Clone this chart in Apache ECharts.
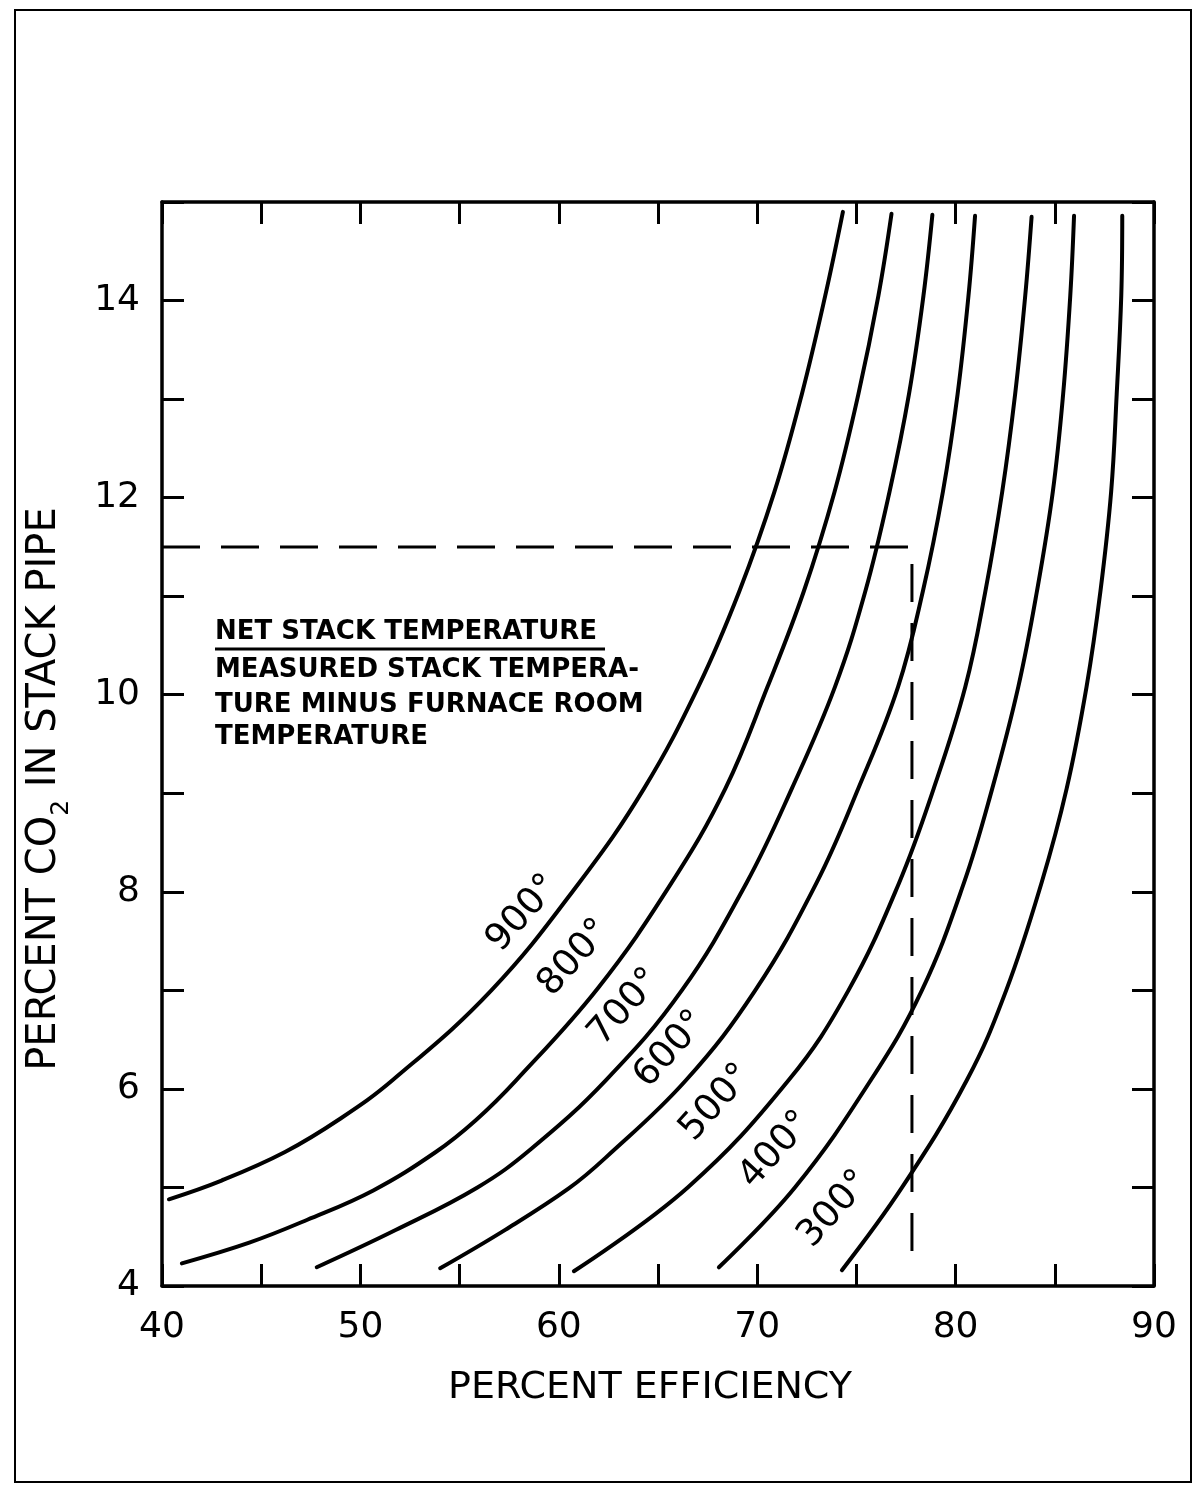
<!DOCTYPE html>
<html><head><meta charset="utf-8">
<script src="https://cdn.jsdelivr.net/npm/echarts@6/dist/echarts.min.js"></script>
<style>html,body{margin:0;padding:0;background:#fff}#c{width:1195px;height:1487px}</style>
</head><body><div id="c"></div>
<script>
// ---- data ----
const xTickValues = [40, 50, 60, 70, 80, 90];
const yTickValues = [4, 6, 8, 10, 12, 14];
const tempLabels = ['900°', '800°', '700°', '600°', '500°', '400°', '300°'];
// [percent efficiency, percent CO2]
const curve900 = [[40.35,4.88],[43.0,5.07],[46.2,5.36],[49.0,5.7],[51.63,6.09],[56.6,7.0],[61.02,8.09],[64.3,9.05],[67.03,10.08],[69.1,11.05],[70.87,12.06],[72.25,13.05],[73.43,14.05],[74.32,14.9]];
const curve800 = [[41.0,4.23],[44.4,4.44],[47.3,4.67],[50.65,4.97],[53.8,5.36],[55.8,5.68],[57.86,6.09],[62.0,7.03],[65.68,8.09],[68.4,9.05],[70.52,10.08],[72.35,11.05],[73.9,12.06],[75.1,13.05],[76.11,14.05],[76.77,14.88]];
const curve700 = [[47.8,4.19],[51.8,4.57],[55.9,5.0],[58.6,5.39],[62.38,6.09],[66.2,7.0],[69.46,8.09],[71.75,9.05],[73.92,10.08],[75.45,11.05],[76.67,12.06],[77.65,13.05],[78.38,14.05],[78.83,14.87]];
const curve600 = [[54.02,4.18],[57.3,4.57],[60.5,4.99],[62.35,5.3],[66.42,6.09],[69.9,7.0],[72.99,8.09],[75.1,9.05],[77.1,10.08],[78.35,11.05],[79.36,12.06],[80.1,13.05],[80.65,14.05],[80.98,14.86]];
const curve500 = [[60.76,4.15],[66.5,5.0],[71.59,6.09],[74.6,7.0],[77.15,8.09],[78.9,9.05],[80.49,10.08],[81.5,11.05],[82.35,12.06],[83.0,13.05],[83.51,14.05],[83.83,14.85]];
const curve400 = [[68.07,4.19],[71.9,5.0],[75.73,6.09],[78.3,7.0],[80.42,8.09],[81.85,9.05],[83.16,10.08],[84.1,11.05],[84.9,12.06],[85.42,13.05],[85.78,14.05],[85.97,14.86]];
const curve300 = [[74.27,4.16],[77.3,5.0],[80.57,6.09],[82.55,7.0],[84.33,8.09],[85.6,9.05],[86.6,10.08],[87.3,11.05],[87.84,12.06],[88.12,13.05],[88.35,14.05],[88.4,14.86]];
const exampleCO2 = 11.5;
const exampleEfficiency = 77.8;
const exampleBottom = 4.2;

// ---- layout / style ----
const curves = [curve900, curve800, curve700, curve600, curve500, curve400, curve300];
const labelAnchors = [[58.2,7.78],[60.8,7.33],[63.35,6.83],[65.65,6.4],[67.95,5.86],[70.95,5.38],[73.9,4.78]];
const FONT = '"DejaVu Sans", sans-serif';
const INK = '#000';

const chart = echarts.init(document.getElementById('c'), null, {renderer: 'canvas'});

const series = curves.map((c, i) => ({
  type: 'line', name: tempLabels[i], data: c, smooth: 0.4,
  showSymbol: false, symbol: 'none', silent: true,
  lineStyle: {color: INK, width: 4, cap: 'round'}
}));
series.push({
  type: 'line', data: [[40, exampleCO2], [exampleEfficiency, exampleCO2], [exampleEfficiency, exampleBottom]],
  showSymbol: false, symbol: 'none', silent: true,
  lineStyle: {color: INK, width: 3, type: [38, 21]}
});
series.push({
  type: 'scatter', symbolSize: 0, silent: true, itemStyle: {color: INK, opacity: 1},
  data: labelAnchors.map((p, i) => [p[0], p[1], tempLabels[i]]),
  label: {show: true, position: 'inside', rotate: 48, formatter: p => p.value[2],
          color: INK, textBorderWidth: 0, opacity: 1, fontFamily: FONT, fontSize: 37}
});

const axisCommon = {
  axisLine: {show: true, onZero: false, lineStyle: {color: INK, width: 3.5}},
  axisTick: {show: true, inside: true, length: 22, lineStyle: {color: INK, width: 3}},
  splitLine: {show: false}
};

chart.setOption({
  animation: false,
  backgroundColor: '#fff',
  grid: {left: 162, right: 41, top: 202, bottom: 201, containLabel: false},
  xAxis: [
    Object.assign({type: 'value', position: 'bottom', min: 40, max: 90, interval: 5,
      axisLabel: {show: true, margin: 24, color: INK, fontFamily: FONT, fontSize: 36,
        formatter: v => xTickValues.includes(v) ? String(v) : ''}}, axisCommon),
    Object.assign({type: 'value', position: 'top', min: 40, max: 90, interval: 5,
      axisLabel: {show: false}}, axisCommon)
  ],
  yAxis: [
    Object.assign({type: 'value', position: 'left', min: 4, max: 15, interval: 1,
      axisLabel: {show: true, margin: 22, color: INK, fontFamily: FONT, fontSize: 36,
        formatter: v => yTickValues.includes(v) ? String(v) : ''}}, axisCommon),
    Object.assign({type: 'value', position: 'right', min: 4, max: 15, interval: 1,
      axisLabel: {show: false}}, axisCommon)
  ],
  series: series,
  graphic: [
    {type: 'rect', shape: {x: 15, y: 10, width: 1176, height: 1472}, silent: true,
     style: {fill: 'none', stroke: INK, lineWidth: 2}},
    {type: 'text', x: 650, y: 1388, silent: true,
     style: {text: 'PERCENT EFFICIENCY', fill: INK, font: '38px ' + FONT, align: 'center', verticalAlign: 'middle'}},
    {type: 'text', x: 45, y: 789, rotation: Math.PI / 2, silent: true,
     style: {text: 'PERCENT CO{sub|2} IN STACK PIPE', fill: INK, fontFamily: FONT, fontSize: 40,
       align: 'center', verticalAlign: 'middle', lineHeight: 58,
       rich: {sub: {fontSize: 25, fontFamily: FONT, fill: INK, verticalAlign: 'bottom', lineHeight: 25}}}},
    {type: 'text', x: 215, y: 632, silent: true,
     style: {text: 'NET STACK TEMPERATURE', fill: INK, font: 'bold 26px ' + FONT, align: 'left', verticalAlign: 'middle'}},
    {type: 'line', silent: true, shape: {x1: 215, y1: 649, x2: 605, y2: 649}, style: {stroke: INK, lineWidth: 3}},
    {type: 'text', x: 215, y: 670, silent: true,
     style: {text: 'MEASURED STACK TEMPERA-', fill: INK, font: 'bold 26px ' + FONT, align: 'left', verticalAlign: 'middle'}},
    {type: 'text', x: 215, y: 705, silent: true,
     style: {text: 'TURE MINUS FURNACE ROOM', fill: INK, font: 'bold 26px ' + FONT, align: 'left', verticalAlign: 'middle'}},
    {type: 'text', x: 215, y: 737, silent: true,
     style: {text: 'TEMPERATURE', fill: INK, font: 'bold 26px ' + FONT, align: 'left', verticalAlign: 'middle'}}
  ]
});
</script></body></html>
